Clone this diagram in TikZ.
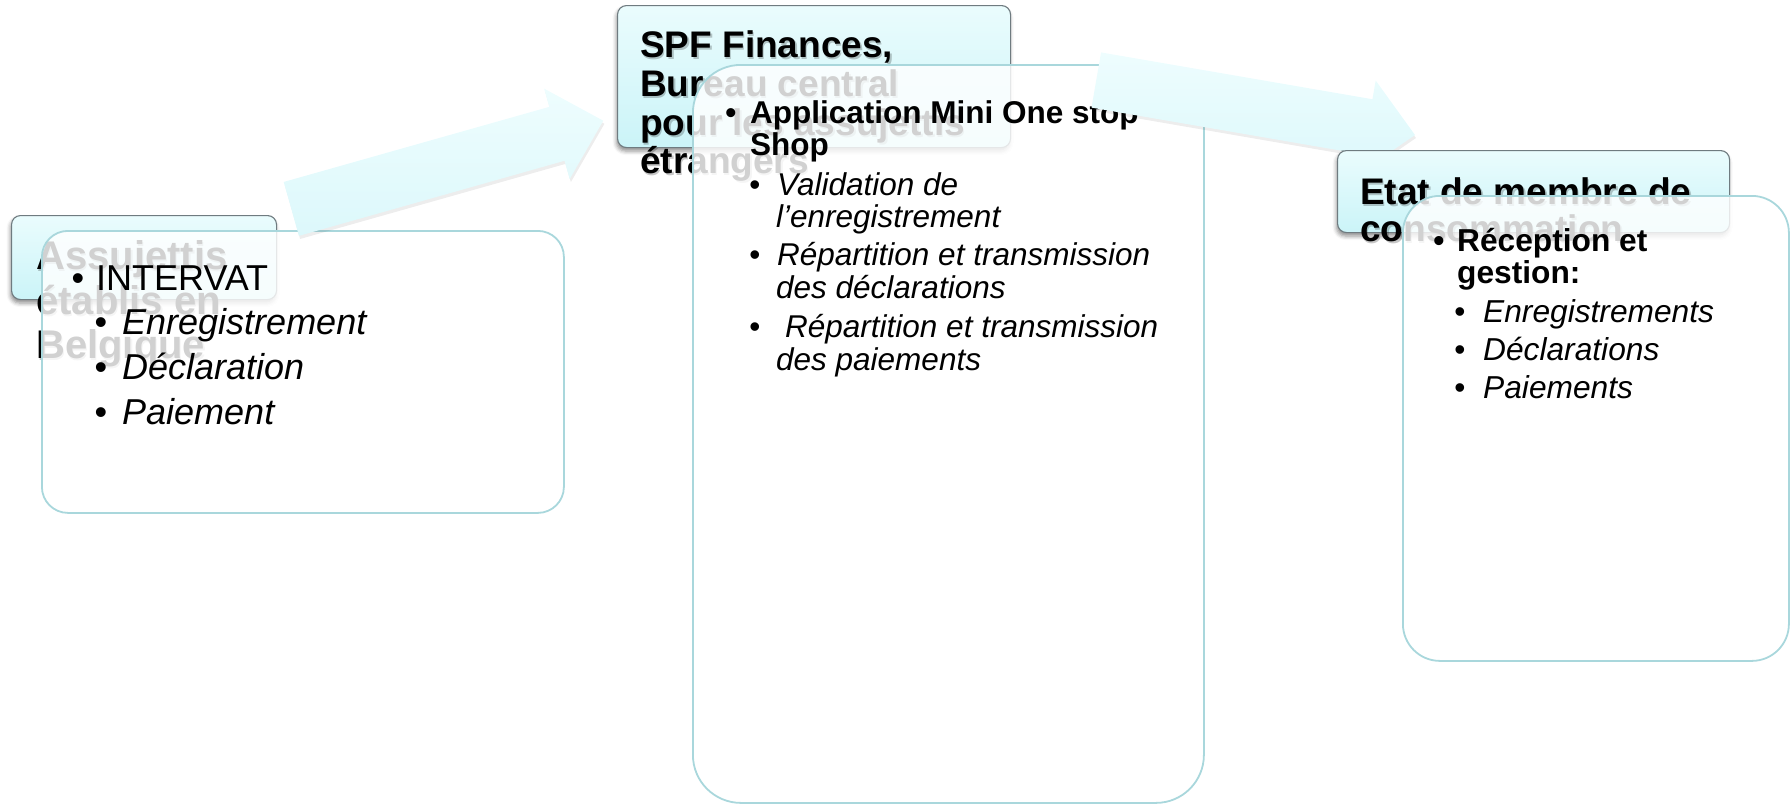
\documentclass[tikz,border=0pt]{standalone}
\usepackage{fontspec}
\setmainfont{Liberation Sans}
\usetikzlibrary{shadows.blur}
\definecolor{hdtop}{HTML}{EAFCFD}
\definecolor{hdbot}{HTML}{CBF4F8}
\definecolor{hdline}{HTML}{6F7B80}
\definecolor{cbline}{HTML}{A9D7DC}
\definecolor{artop}{HTML}{EEFDFE}
\definecolor{arbot}{HTML}{DCF8FB}
\newcommand\HdOne{\fontsize{40}{44}\selectfont\bfseries}
\newcommand\HdTwo{\fontsize{37}{40}\selectfont\bfseries}
\newcommand\CtOne{\fontsize{36}{40}\selectfont}
\newcommand\CtTwo{\fontsize{31.5}{34}\selectfont}
\newcommand\CtThree{\fontsize{31.7}{34}\selectfont}
\newcommand\HdLine[4]{%
  \node[hsh] (#1s) at (#2,#3) {#4};
  \node[txt] (#1) at (#2,#3) {#4};}
\newcommand\ArrowPath[2]{% #1 head base, #2 tip
  (0,-28) -- (#1,-28) -- (#1,-47) -- (#2,0) -- (#1,47) -- (#1,28) -- (0,28) -- cycle}
\tikzset{
  hdbox/.style={draw=hdline, line width=1.1pt, rounded corners=9pt,
    top color=hdtop, bottom color=hdbot, inner sep=0pt, anchor=north west,
    blur shadow={shadow xshift=-1pt, shadow yshift=-3.5pt,
      shadow blur radius=4pt, shadow opacity=45}},
  cbox/.style={draw=cbline, line width=1.8pt, fill=white, fill opacity=0.82,
    draw opacity=1, inner sep=0pt, anchor=north west},
  txt/.style={anchor=base west, inner sep=0pt, text=black},
  hsh/.style={txt, text opacity=0.22, xshift=1.5pt, yshift=-2.5pt},
  bul/.style={anchor=base, inner sep=0pt, text=black},
  blockarrow/.style={top color=artop, bottom color=arbot, draw=none},
  arrowshade/.style={fill=black, fill opacity=0.07, draw=none},
}
\begin{document}
\begin{tikzpicture}[x=1pt,y=-1pt]
\useasboundingbox (0,0) rectangle (1791,804);

% ---------- block 1 ----------
\node[hdbox, minimum width=265pt, minimum height=84pt] (h1) at (11,215) {};
\HdLine{h1a}{36}{269}{\HdOne Assujettis}
\HdLine{h1b}{36}{314}{\HdOne établis en}
\HdLine{h1c}{36}{358}{\HdOne Belgique}
\node[cbox, rounded corners=26pt, minimum width=522pt, minimum height=282pt] (c1) at (41,230) {};
\node[bul] (c1b1) at (78,290) {\CtOne •};
\node[txt] (c1t1) at (96,290) {\CtOne INTERVAT};
\node[bul] (c1b2) at (101,334) {\CtOne •};
\node[txt] (c1t2) at (122,334) {\CtOne\itshape Enregistrement};
\node[bul] (c1b3) at (101,379) {\CtOne •};
\node[txt] (c1t3) at (122,379) {\CtOne\itshape Déclaration};
\node[bul] (c1b4) at (101,424) {\CtOne •};
\node[txt] (c1t4) at (122,424) {\CtOne\itshape Paiement};

% ---------- block 2 ----------
\node[hdbox, minimum width=393pt, minimum height=142pt] (h2) at (617,5) {};
\HdLine{h2a}{640}{57}{\HdTwo SPF Finances,}
\HdLine{h2b}{640}{96}{\HdTwo Bureau central}
\HdLine{h2c}{640}{135}{\HdTwo pour les assujettis}
\HdLine{h2d}{640}{173}{\HdTwo étrangers}
\node[cbox, rounded corners=48pt, minimum width=511pt, minimum height=738pt] (c2) at (692,64) {};
\node[bul] (c2b1) at (731,123) {\CtTwo\bfseries •};
\node[txt] (c2t1) at (750,123) {\CtTwo\bfseries Application Mini One stop};
\node[txt] (c2t2) at (750,155) {\CtTwo\bfseries Shop};
\node[bul] (c2b2) at (755,195) {\CtTwo •};
\node[txt] (c2t3) at (777,195) {\CtTwo\itshape Validation de};
\node[txt] (c2t4) at (776,227) {\CtTwo\itshape l’enregistrement};
\node[bul] (c2b3) at (755,265) {\CtTwo •};
\node[txt] (c2t5) at (777,265) {\CtTwo\itshape Répartition et transmission};
\node[txt] (c2t6) at (776,298) {\CtTwo\itshape des déclarations};
\node[bul] (c2b4) at (755,337) {\CtTwo •};
\node[txt] (c2t7) at (785,337) {\CtTwo\itshape Répartition et transmission};
\node[txt] (c2t8) at (776,370) {\CtTwo\itshape des paiements};

% ---------- arrows ----------
\begin{scope}[shift={(292.5,212)}, rotate=15.79]
  \path[arrowshade] \ArrowPath{276}{324.2};
\end{scope}
\begin{scope}[shift={(291.3,208.9)}, rotate=15.79]
  \path[blockarrow] \ArrowPath{276}{324.2};
\end{scope}
\begin{scope}[shift={(1097.3,83)}, rotate=-9.79]
  \path[arrowshade] \ArrowPath{275.4}{323.4};
\end{scope}
\begin{scope}[shift={(1096.3,80)}, rotate=-9.79]
  \path[blockarrow] \ArrowPath{275.4}{323.4};
\end{scope}

% ---------- block 3 ----------
\node[hdbox, minimum width=392pt, minimum height=82pt] (h3) at (1337,150) {};
\HdLine{h3a}{1360}{204}{\HdTwo Etat de membre de}
\HdLine{h3b}{1360}{241}{\HdTwo consommation}
\node[cbox, rounded corners=37pt, minimum width=386pt, minimum height=465pt] (c3) at (1402,195) {};
\node[bul] (c3b1) at (1439,251) {\CtThree\bfseries •};
\node[txt] (c3t1) at (1457,251) {\CtThree\bfseries Réception et};
\node[txt] (c3t2) at (1457,283) {\CtThree\bfseries gestion:};
\node[bul] (c3b2) at (1460,322) {\CtThree •};
\node[txt] (c3t3) at (1483,322) {\CtThree\itshape Enregistrements};
\node[bul] (c3b3) at (1460,360) {\CtThree •};
\node[txt] (c3t4) at (1483,360) {\CtThree\itshape Déclarations};
\node[bul] (c3b4) at (1460,398) {\CtThree •};
\node[txt] (c3t5) at (1483,398) {\CtThree\itshape Paiements};
\end{tikzpicture}
\end{document}
